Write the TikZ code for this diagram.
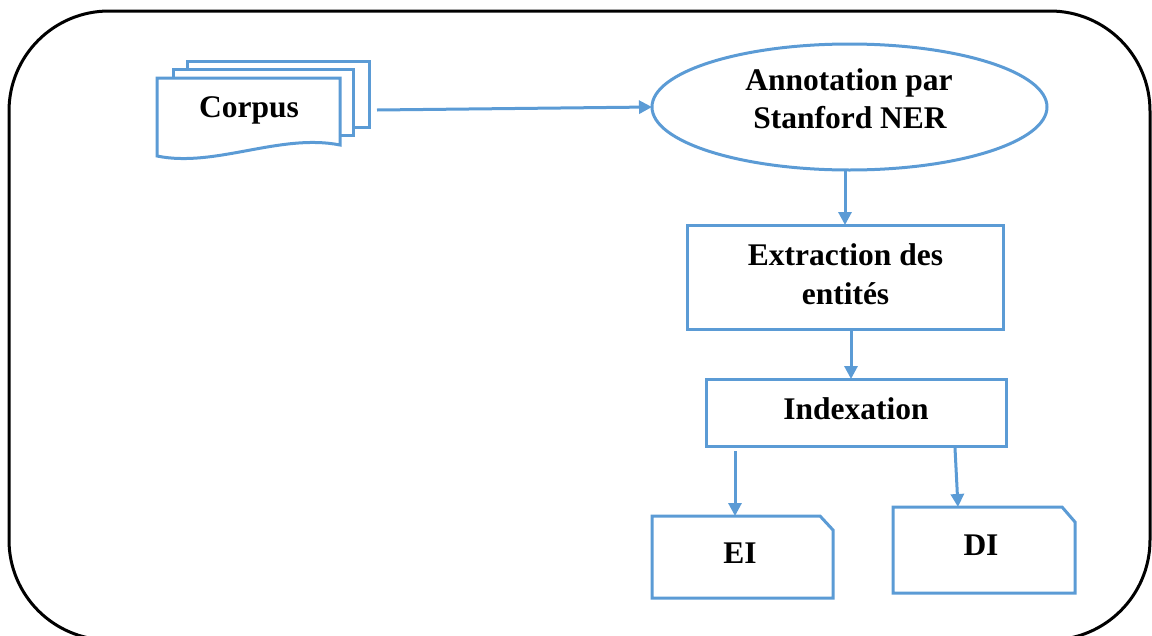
\documentclass[tikz,border=0pt]{standalone}
\usepackage{fontspec}
\setmainfont{Liberation Serif}
\usetikzlibrary{arrows.meta,shapes.geometric,calc}
\definecolor{flowblue}{RGB}{91,155,213}
\begin{document}
\begin{tikzpicture}[x=1pt,y=-1pt,
  flow/.style={draw=flowblue, line width=3pt},
  arr/.style={draw=flowblue, line width=3pt, -{Triangle[length=13pt,width=13pt]}},
  box/.style={inner sep=0pt, outer sep=0pt},
  lbl/.style={font=\fontsize{31.5}{38}\bfseries\selectfont, inner sep=0pt, anchor=base}]
\useasboundingbox (0,0) rectangle (1152,635);

% outer frame
\begin{scope}
  \clip (0,0) rectangle (1152,635);
  \draw[line width=3pt, rounded corners=100pt] (9,11) rectangle (1150,640);
\end{scope}

% corpus: stack of documents
\draw[flow, fill=white] (187,61) rectangle (369,127);
\draw[flow, fill=white] (173,69) rectangle (353,135);
\draw[flow, fill=white] (157,78) -- (340,78) -- (340,145)
  .. controls (280,133) and (215,168) .. (157,156) -- cycle;
\node[box, minimum width=212pt, minimum height=96pt] (corpus) at (263,109) {};

% process nodes
\node[box, flow, ellipse, minimum width=395pt, minimum height=126pt] (ann) at (849.5,107) {};
\node[box, flow, rectangle, minimum width=316pt, minimum height=104pt] (extr) at (845,277) {};
\node[box, flow, rectangle, minimum width=300pt, minimum height=67pt] (indx) at (856,412.5) {};

% output documents with a cut corner
\node[box, minimum width=181pt, minimum height=82pt] (ei) at (742.5,557) {};
\draw[flow] (ei.south west) |- ($(ei.north east)+(-13,0)$) -- ($(ei.north east)+(0,14)$)
  -- (ei.south east) -- cycle;
\node[box, minimum width=182pt, minimum height=86pt] (di) at (984,550) {};
\draw[flow] (di.south west) |- ($(di.north east)+(-13,0)$) -- ($(di.north east)+(0,15)$)
  -- (di.south east) -- cycle;

% connectors
\draw[arr] ($(corpus.east)+(8,1)$) -- (ann.west);
\draw[arr] (extr.north |- ann.south) -- (extr.north);
\draw[arr] ($(extr.south)+(6,0)$) -- ($(extr.south |- indx.north)+(6,0)$);
\draw[arr] ($(ei.north |- indx.south)+(-7.5,5)$) -- ($(ei.north)+(-7.5,0)$);
\draw[arr] ($(di.north |- indx.south)+(-29,2)$) -- ($(di.north)+(-26,0)$);

% labels
\node[lbl] (tcorpus) at (249,117) {Corpus};
\node[lbl] (tann1) at (849,90) {Annotation par};
\node[lbl] (tann2) at (850,128) {Stanford NER};
\node[lbl] (textr1) at (845.5,265) {Extraction des};
\node[lbl] (textr2) at (845.5,304) {entités};
\node[lbl] (tindx) at (856,419) {Indexation};
\node[lbl] (tei) at (740,563) {EI};
\node[lbl] (tdi) at (981,555) {DI};
\end{tikzpicture}
\end{document}
